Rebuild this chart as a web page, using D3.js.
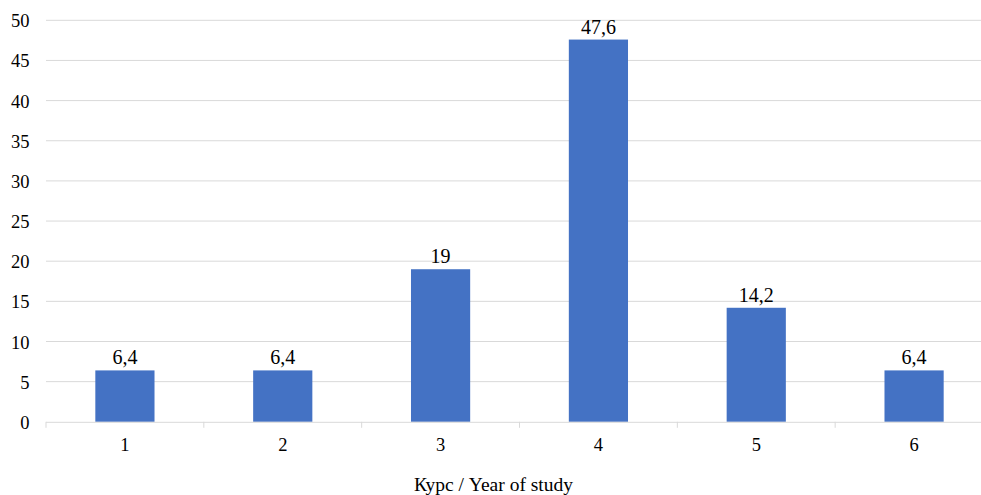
<!DOCTYPE html>
<html><head><meta charset="utf-8">
<script src="https://cdn.jsdelivr.net/npm/d3@7"></script>
<style>body{margin:0;background:#fff}svg{display:block}text{font-family:"Liberation Serif","Times New Roman",serif}</style>
</head><body>
<script>
const categories = ["1","2","3","4","5","6"];
const values = [6.4, 6.4, 19, 47.6, 14.2, 6.4];
const valueLabels = ["6,4","6,4","19","47,6","14,2","6,4"];
const yTicks = [0,5,10,15,20,25,30,35,40,45,50];
const xTitle = "Курс / Year of study";

(function(){
const W = 981, H = 495;
const mLeft = 46, mRight = 993, mTop = 20.3, mBottom = 421.8;
const svg = d3.select("body").append("svg").attr("width", W).attr("height", H);

const x = d3.scaleBand().domain(categories).range([mLeft, mRight]).paddingInner(0.625).paddingOuter(0.3125);
const xb = d3.scaleBand().domain(categories).range([mLeft, mRight]);
const y = d3.scaleLinear().domain([0, 50]).range([mBottom, mTop]);

svg.append("g").selectAll("line").data(yTicks.filter(d => d > 0)).join("line")
  .attr("x1", mLeft).attr("x2", mRight)
  .attr("y1", d => y(d)).attr("y2", d => y(d))
  .attr("stroke", "#d9d9d9").attr("stroke-width", 1);

svg.append("g").selectAll("text").data(yTicks).join("text")
  .attr("x", 29.5).attr("y", d => y(d) + 7)
  .attr("text-anchor", "end").attr("font-size", 18.5).attr("fill", "#000")
  .text(d => d);

svg.append("g").selectAll("rect").data(values).join("rect")
  .attr("x", (d, i) => x(categories[i])).attr("width", x.bandwidth())
  .attr("y", d => y(d)).attr("height", d => y(0) - y(d))
  .attr("fill", "#4472c4");

const xa = svg.append("g");
xa.append("line").attr("x1", mLeft).attr("x2", mRight).attr("y1", mBottom + 0.5).attr("y2", mBottom + 0.5)
  .attr("stroke", "#d9d9d9").attr("stroke-width", 1);
const bounds = categories.map(c => xb(c)).concat([mRight]);
xa.selectAll("line.t").data(bounds).join("line").attr("class", "t")
  .attr("x1", d => d).attr("x2", d => d).attr("y1", mBottom).attr("y2", mBottom + 6)
  .attr("stroke", "#d9d9d9");
xa.selectAll("text").data(categories).join("text")
  .attr("x", d => xb(d) + xb.bandwidth() / 2).attr("y", 451)
  .attr("text-anchor", "middle").attr("font-size", 18.5).attr("fill", "#000")
  .text(d => d);

svg.append("g").selectAll("text").data(values).join("text")
  .attr("x", (d, i) => x(categories[i]) + x.bandwidth() / 2).attr("y", d => y(d) - 6)
  .attr("text-anchor", "middle").attr("font-size", 20).attr("fill", "#000")
  .text((d, i) => valueLabels[i]);

svg.append("text").attr("x", 493.5).attr("y", 491).attr("text-anchor", "middle")
  .attr("font-size", 19.5).attr("fill", "#000").text(xTitle);
})();
</script>
</body></html>
